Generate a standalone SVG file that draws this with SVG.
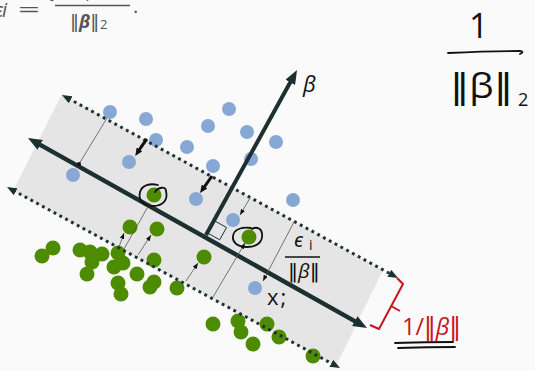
<svg xmlns="http://www.w3.org/2000/svg" width="535" height="371" viewBox="0 0 535 371">
<style>
.blue{fill:#87a8d5}
.green{fill:#4d8c00}
.dk{stroke:#1d3030;fill:none}
.thin{stroke:#555;stroke-width:0.8;fill:none}
.hand{stroke:#111;stroke-width:1.8;fill:none;stroke-linecap:round;stroke-linejoin:round}
.lbl{font-family:"Open Sans","Noto Sans","DejaVu Sans",sans-serif;fill:#111}
.gry{font-family:"Open Sans","Noto Sans","DejaVu Sans",sans-serif;fill:#555}
.red{font-family:"Open Sans","Noto Sans","DejaVu Sans",sans-serif;fill:#c3161c}
.bar{font-family:"DejaVu Sans",sans-serif}
</style>
<defs>
<marker id="mBig" viewBox="0 0 14 11" refX="4" refY="5.5" markerWidth="14" markerHeight="11" markerUnits="userSpaceOnUse" orient="auto-start-reverse"><path d="M0,0 L14,5.5 L0,11z" fill="#1d3030"/></marker>
<marker id="mDot" viewBox="0 0 10 8" refX="3" refY="4" markerWidth="10" markerHeight="8" markerUnits="userSpaceOnUse" orient="auto-start-reverse"><path d="M0,0 L10,4 L0,8z" fill="#1d3030"/></marker>
<marker id="mThick" viewBox="0 0 8 7" refX="2" refY="3.5" markerWidth="8" markerHeight="7" markerUnits="userSpaceOnUse" orient="auto"><path d="M0,0 L8,3.5 L0,7z" fill="#111"/></marker>
<marker id="mThin" viewBox="0 0 6 4.6" refX="6" refY="2.3" markerWidth="6" markerHeight="4.6" markerUnits="userSpaceOnUse" orient="auto"><path d="M0,0 L6,2.3 L0,4.6z" fill="#111"/></marker>
<marker id="mEnd" viewBox="0 0 4 4" refX="2" refY="2" markerWidth="4" markerHeight="4" markerUnits="userSpaceOnUse"><circle cx="2" cy="2" r="2" fill="#111"/></marker>
</defs>
<rect x="0" y="0" width="535" height="371" fill="#fafafa"/>

<g id="formula">
<text class="gry" x="-6" y="17" font-size="20" font-style="italic">ϵ</text>
<text class="gry" x="2" y="17" font-size="20" font-style="italic">i</text>
<text class="gry" x="18" y="17" font-size="22" textLength="22" lengthAdjust="spacingAndGlyphs">=</text>
<text class="gry" x="52" y="-3" font-size="17" font-style="italic">yi(xiᵀβ)</text>
<line x1="55" y1="5.5" x2="130" y2="5.5" stroke="#555" stroke-width="1.3"/>
<text class="gry" x="70" y="28" font-size="18"><tspan class="bar">‖</tspan><tspan font-style="italic" font-weight="bold">β</tspan><tspan class="bar">‖</tspan></text>
<text class="gry" x="100" y="29" font-size="13">2</text>
<text class="gry" x="133" y="13" font-size="20">.</text>
</g>

<g id="handnote">
<text class="lbl" x="469" y="38" font-size="34">1</text>
<path class="hand" d="M448,53 Q490,51 520,51 Q525,52 520,54"/>
<text class="lbl" x="450" y="98" font-size="34" textLength="63" lengthAdjust="spacingAndGlyphs"><tspan class="bar">‖</tspan>β<tspan class="bar">‖</tspan></text>
<text class="lbl" x="518" y="106" font-size="18">2</text>
</g>

<g id="band">
<polygon points="62,94 383,270 336,366 13,191" fill="#e5e5e5"/>
</g>

<g id="points">
<circle class="blue" cx="110" cy="112" r="7"/>
<circle class="blue" cx="146" cy="119" r="7"/>
<circle class="blue" cx="229" cy="109" r="7"/>
<circle class="blue" cx="208" cy="126" r="7"/>
<circle class="blue" cx="247" cy="132" r="7"/>
<circle class="blue" cx="276" cy="142" r="7"/>
<circle class="blue" cx="156" cy="140" r="7"/>
<circle class="blue" cx="187" cy="147" r="7"/>
<circle class="blue" cx="129" cy="162" r="7"/>
<circle class="blue" cx="73" cy="175" r="7"/>
<circle class="blue" cx="213" cy="166" r="7"/>
<circle class="blue" cx="251" cy="159" r="7"/>
<circle class="blue" cx="196" cy="199" r="7"/>
<circle class="blue" cx="293" cy="200" r="7"/>
<circle class="blue" cx="233" cy="220" r="7"/>
<circle class="blue" cx="255" cy="288" r="7"/>
<circle class="green" cx="154" cy="195" r="7.5"/>
<circle class="green" cx="249" cy="237" r="7.5"/>
<circle class="green" cx="130" cy="227" r="7.5"/>
<circle class="green" cx="157" cy="229" r="7.5"/>
<circle class="green" cx="42" cy="256" r="7.5"/>
<circle class="green" cx="53" cy="248" r="7.5"/>
<circle class="green" cx="80" cy="250" r="7.5"/>
<circle class="green" cx="90" cy="252" r="7.5"/>
<circle class="green" cx="102" cy="254" r="7.5"/>
<circle class="green" cx="92" cy="262" r="7.5"/>
<circle class="green" cx="87" cy="274" r="7.5"/>
<circle class="green" cx="118" cy="253" r="7.5"/>
<circle class="green" cx="123" cy="263" r="7.5"/>
<circle class="green" cx="114" cy="267" r="7.5"/>
<circle class="green" cx="154" cy="260" r="7.5"/>
<circle class="green" cx="137" cy="274" r="7.5"/>
<circle class="green" cx="118" cy="283" r="7.5"/>
<circle class="green" cx="121" cy="294" r="7.5"/>
<circle class="green" cx="154" cy="282" r="7.5"/>
<circle class="green" cx="150" cy="287" r="7.5"/>
<circle class="green" cx="177" cy="288" r="7.5"/>
<circle class="green" cx="204" cy="257" r="7.5"/>
<circle class="green" cx="213" cy="324" r="7.5"/>
<circle class="green" cx="238" cy="321" r="7.5"/>
<circle class="green" cx="241" cy="332" r="7.5"/>
<circle class="green" cx="253" cy="344" r="7.5"/>
<circle class="green" cx="267" cy="324" r="7.5"/>
<circle class="green" cx="279" cy="337" r="7.5"/>
<circle class="green" cx="313" cy="356" r="7.5"/>
</g>

<g id="connectors">
<line class="dk" x1="68.1" y1="98.3" x2="391.9" y2="274.7" stroke-width="3" stroke-dasharray="2.8 3.8" marker-start="url(#mDot)" marker-end="url(#mDot)"/>
<line class="dk" x1="13.1" y1="190.3" x2="333.9" y2="364.7" stroke-width="3" stroke-dasharray="2.8 3.8" marker-start="url(#mDot)" marker-end="url(#mDot)"/>
<line class="dk" x1="36.7" y1="142.9" x2="358.3" y2="323.1" stroke-width="4.5" marker-start="url(#mBig)" marker-end="url(#mBig)"/>
<line class="dk" x1="206" y1="235" x2="292.2" y2="78.8" stroke-width="4" marker-end="url(#mBig)"/>
<path d="M207.5,233 L219.7,239.8 L226.5,227.5 L214.3,220.7" fill="none" stroke="#1d3030" stroke-width="1"/>
<line class="thin" x1="107" y1="118" x2="79" y2="164" marker-end="url(#mEnd)"/>
<path d="M147,139 Q143,144 138.5,151" fill="none" stroke="#111" stroke-width="3" marker-end="url(#mThick)"/>
<line x1="212" y1="176" x2="203.5" y2="188.1" stroke="#111" stroke-width="3" marker-end="url(#mThick)"/>
<line class="thin" x1="250" y1="198" x2="240" y2="215" marker-end="url(#mThin)"/>
<line class="thin" x1="294" y1="222" x2="263" y2="281" marker-end="url(#mThin)"/>
<line class="thin" x1="150" y1="203" x2="124" y2="249"/>
<line class="thin" x1="119" y1="247" x2="124" y2="233" marker-end="url(#mThin)"/>
<line class="thin" x1="138" y1="255" x2="151" y2="235" marker-end="url(#mThin)"/>
<line class="thin" x1="186" y1="281" x2="198" y2="263" marker-end="url(#mThin)"/>
<line class="thin" x1="213" y1="297" x2="245" y2="243" marker-end="url(#mThin)"/>
</g>

<g id="circles">
<path class="hand" d="M155,192 C158,187 166,186 166,191 C168,199 164,206 153,206 C143,206 138,200 140,192 C142,185 150,183 158,185"/>
<path class="hand" d="M252,229 C257,226 262,229 262,234 C263,242 257,247 247,247 C237,247 232,242 233,236 C234,229 242,227 251,228"/>
</g>

<g id="labels">
<text class="lbl" x="303" y="92" font-size="22" font-style="italic">β</text>
<text class="lbl" x="294" y="247" font-size="20" font-style="italic">ϵ</text>
<text class="lbl" x="309" y="250" font-size="14">i</text>
<line x1="285" y1="257" x2="320" y2="257" stroke="#111" stroke-width="1.5"/>
<text class="lbl" x="288" y="278" font-size="20"><tspan class="bar">‖</tspan><tspan font-style="italic">β</tspan><tspan class="bar">‖</tspan></text>
<text class="lbl" x="267" y="305" font-size="22" letter-spacing="2">x;</text>
</g>

<g id="margin">
<path d="M370,325 L379,329 L403,284 L397,278 M391,306 L400,311" fill="none" stroke="#c3161c" stroke-width="2" stroke-linejoin="round"/>
<text class="red" x="402" y="335" font-size="24" textLength="59" lengthAdjust="spacingAndGlyphs">1/<tspan class="bar">‖</tspan><tspan font-style="italic">β</tspan><tspan class="bar">‖</tspan></text>
<path class="hand" d="M395,343 Q425,342 453,342 M398,348 Q428,347 455,347"/>
</g>
</svg>
